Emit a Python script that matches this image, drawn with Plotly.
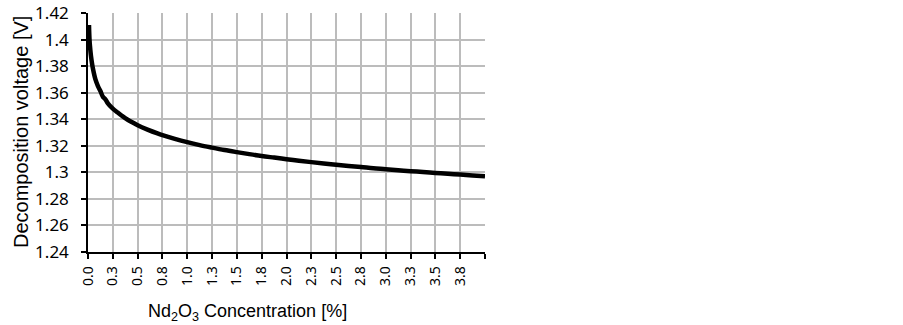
import plotly.graph_objects as go

# Data
concentration = [0.01, 0.015, 0.02, 0.03, 0.04, 0.05, 0.075, 0.1, 0.125, 0.15, 0.175, 0.2,
                 0.25, 0.3, 0.35, 0.4, 0.45, 0.5, 0.6, 0.7, 0.75, 0.875, 1.0, 1.125, 1.25,
                 1.375, 1.5, 1.625, 1.75, 1.875, 2.0, 2.125, 2.25, 2.375, 2.5, 2.625, 2.75,
                 2.875, 3.0, 3.125, 3.25, 3.375, 3.5, 3.625, 3.75, 3.875, 4.0]
voltage = [1.411, 1.4004, 1.395, 1.3876, 1.3823, 1.378, 1.370, 1.365, 1.3612, 1.357, 1.3550,
           1.352, 1.348, 1.345, 1.3421, 1.3396, 1.3375, 1.3355, 1.3322, 1.3293, 1.328,
           1.3252, 1.3227, 1.3205, 1.3186, 1.3168, 1.3152, 1.3137, 1.3123, 1.3111, 1.3099,
           1.3088, 1.3077, 1.3067, 1.3057, 1.3048, 1.3040, 1.3031, 1.3024, 1.3016, 1.3009,
           1.3002, 1.2995, 1.2989, 1.2983, 1.2977, 1.2971]

x_tick_vals = [0.0, 0.25, 0.5, 0.75, 1.0, 1.25, 1.5, 1.75, 2.0, 2.25, 2.5, 2.75, 3.0,
               3.25, 3.5, 3.75, 4.0]
x_tick_text = ["0.0", "0.3", "0.5", "0.8", "1.0", "1.3", "1.5", "1.8", "2.0", "2.3", "2.5",
               "2.8", "3.0", "3.3", "3.5", "3.8", ""]
y_tick_vals = [1.24, 1.26, 1.28, 1.30, 1.32, 1.34, 1.36, 1.38, 1.40, 1.42]
y_tick_text = ["1.24", "1.26", "1.28", "1.3", "1.32", "1.34", "1.36", "1.38", "1.4", "1.42"]

fig = go.Figure()
fig.add_trace(go.Scatter(
    x=concentration, y=voltage, mode="lines",
    line=dict(color="black", width=4.5, shape="spline", smoothing=1.0),
    showlegend=False, hoverinfo="skip",
))

L, T = 88, 13
PW, PH = 397, 239
W, H = 903, 325
grid_color = "#bcbcbc"
fig.update_layout(
    template="none",
    width=W, height=H,
    margin=dict(l=L, r=W - L - PW, t=T, b=H - T - PH, pad=0, autoexpand=False),
    paper_bgcolor="white", plot_bgcolor="white",
    font=dict(family="Noto Sans", color="black"),
    xaxis=dict(
        range=[0, 4], tickmode="array", tickvals=x_tick_vals, ticktext=x_tick_text,
        tickangle=-90, tickfont=dict(family="Noto Sans", size=14, color="black"),
        showgrid=True, gridcolor=grid_color, gridwidth=2,
        showline=True, linecolor="black", linewidth=1.5,
        ticks="outside", ticklen=5, tickcolor="black", tickwidth=1.5,
        ticklabelstandoff=2, zeroline=False, fixedrange=True, automargin=False,
    ),
    yaxis=dict(
        range=[1.24, 1.42], tickmode="array", tickvals=y_tick_vals, ticktext=y_tick_text,
        tickfont=dict(family="Noto Sans", size=17, color="black"),
        showgrid=True, gridcolor=grid_color, gridwidth=2,
        showline=True, linecolor="black", linewidth=1.5,
        ticks="outside", ticklen=5, tickcolor="black", tickwidth=1.5,
        ticklabelstandoff=9, zeroline=False, fixedrange=True, automargin=False,
    ),
    annotations=[
        dict(text="Nd<sub>2</sub>O<sub>3</sub> Concentration [%]",
             xref="paper", yref="paper", x=(247 - L) / PW, y=-(299 - 252) / PH,
             xanchor="center", yanchor="top", showarrow=False,
             font=dict(family="Liberation Sans", size=18, color="black")),
        dict(text="Decomposition voltage [V]", textangle=-90,
             xref="paper", yref="paper", x=-(L - 20.5) / PW, y=0.5,
             xanchor="center", yanchor="middle", showarrow=False,
             font=dict(family="Liberation Sans", size=20, color="black")),
    ],
)

fig.write_html(
    "out.html",
    config={"displayModeBar": False},
    post_script="document.body.style.margin='0';document.body.style.padding='0';",
)
